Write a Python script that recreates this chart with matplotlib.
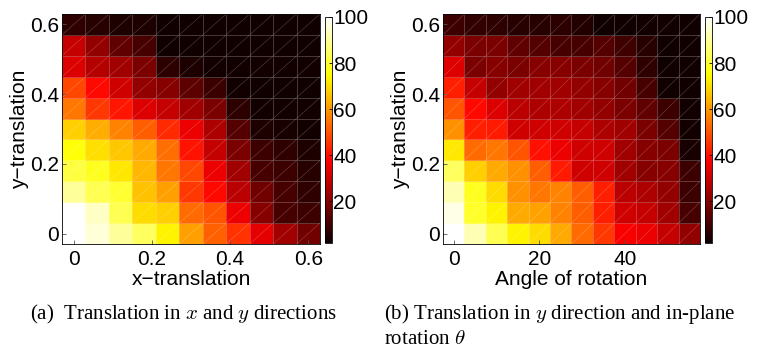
import numpy as np
import matplotlib
matplotlib.use('Agg')
from matplotlib import pyplot as plt
from matplotlib.collections import LineCollection

plt.rcParams['font.family'] = ['Liberation Sans', 'DejaVu Sans']
plt.rcParams['mathtext.fontset'] = 'cm'

# grid coordinates (cell centres)
x_trans = [0, 0.06, 0.12, 0.18, 0.24, 0.30, 0.36, 0.42, 0.48, 0.54, 0.60]
y_trans = [0, 0.06, 0.12, 0.18, 0.24, 0.30, 0.36, 0.42, 0.48, 0.54, 0.60]
angles = [0, 5, 10, 15, 20, 25, 30, 35, 40, 45, 50, 55]

# accuracy (%) rows listed from top (y=0.6) down to bottom (y=0)
acc_xy = [
    [7.5, 6.5, 5, 5, 3, 3, 3, 3, 3, 3, 3],
    [29.5, 22, 15, 11, 3, 3, 3, 3, 3, 3, 3],
    [33, 27, 24, 18.5, 7, 5, 3.5, 3.5, 3.5, 3.5, 3.5],
    [48, 39, 31, 22, 20, 14, 9, 3.5, 3, 3, 3],
    [55, 46, 41, 33, 29.5, 24, 18.5, 7, 3.5, 3.5, 3.5],
    [68, 63, 57, 51.5, 44, 35, 26, 13, 5, 4, 3.5],
    [75.5, 70.5, 67, 62.5, 54, 40.5, 29.5, 18.5, 9.5, 7.5, 5],
    [81.5, 78, 71.5, 64.5, 55, 48, 35, 24, 11, 9.5, 6.5],
    [90, 83, 80, 66, 61, 46, 39, 28, 17, 11, 7.5],
    [100, 94, 83, 70, 68, 53.5, 50, 35, 20, 11, 9.5],
    [100, 96, 90, 84, 73.5, 61, 52, 45, 34, 24, 17],
]
acc_ytheta = [
    [9.5, 8, 7.5, 6.5, 6.5, 7, 5.5, 3, 3, 3.5, 3.5, 3],
    [22, 18.5, 18.5, 15, 13, 11, 11, 13, 10, 6.5, 3, 3],
    [33, 18.5, 20, 18.5, 20, 20, 18.5, 17, 13, 7.5, 3, 3],
    [42.5, 29.5, 22, 24, 24, 24, 22, 20, 17, 11, 3.5, 3],
    [50, 39, 33, 28, 26, 26, 24, 22, 18.5, 15, 9.5, 3.5],
    [59, 42.5, 41.5, 31, 31, 31, 29.5, 26, 24, 18.5, 13, 3.5],
    [72, 53.5, 55, 50, 40, 35, 31, 31, 24, 20, 18.5, 4],
    [84, 68, 62.5, 59, 51.5, 41.5, 31, 31, 24, 20, 20, 9.5],
    [92.5, 78, 70, 59, 55, 57, 51.5, 42.5, 28, 26, 22, 9.5],
    [97.5, 79, 73.5, 62.5, 61.5, 57, 51.5, 42.5, 31, 29.5, 24, 11],
    [100, 92.5, 83, 73.5, 70, 62.5, 53.5, 46, 37, 35, 29.5, 22],
]

W, H = 758, 349
FS = 15
fig = plt.figure(figsize=(W / 100, H / 100), dpi=100)


def px(x0, y0, w, h):
    # pixel box (top-left origin) -> figure fraction
    return [x0 / W, (H - y0 - h) / H, w / W, h / H]


def edges(c):
    c = np.asarray(c, float)
    d = c[1] - c[0]
    return np.concatenate([c - d / 2, [c[-1] + d / 2]])


def heat(ax, cax, xs, ys, vals, xticks, xlabel):
    Z = np.array(vals)[::-1]
    xe, ye = edges(xs), edges(ys)
    m = ax.pcolormesh(xe, ye, Z, cmap='hot', vmin=2, vmax=100,
                      edgecolors=(1, 1, 1, 0.22), linewidth=0.7)
    # diagonal facet lines
    segs = []
    for i in range(len(xs)):
        for j in range(len(ys)):
            segs.append([(xe[i], ye[j]), (xe[i + 1], ye[j + 1])])
    ax.add_collection(LineCollection(segs, colors=[(1, 1, 1, 0.22)], linewidths=0.5))
    ax.set_xlim(xe[0], xe[-1])
    ax.set_ylim(ye[0], ye[-1])
    ax.set_xticks(xticks)
    ax.set_xticklabels(['%g' % t for t in xticks])
    ax.set_yticks([0, 0.2, 0.4, 0.6])
    ax.set_yticklabels(['0', '0.2', '0.4', '0.6'])
    ax.tick_params(labelsize=FS, direction='in', length=3, width=0.6,
                   color='#555555', pad=2)
    ax.tick_params(axis='x', pad=4)
    ax.set_xlabel(xlabel, fontsize=FS, labelpad=1)
    ax.set_ylabel('y\u2212translation', fontsize=FS, labelpad=1)
    for s in ax.spines.values():
        s.set_linewidth(0.6)
    cb = fig.colorbar(m, cax=cax)
    cb.set_ticks([20, 40, 60, 80, 100])
    cb.ax.tick_params(labelsize=FS, direction='in', length=2, width=0.6, pad=1)
    cb.outline.set_linewidth(0.6)


ax1 = fig.add_axes(px(62, 14, 258, 230))
cax1 = fig.add_axes(px(325, 17, 7, 226))
heat(ax1, cax1, x_trans, y_trans, acc_xy, [0, 0.2, 0.4, 0.6], 'x\u2212translation')

ax2 = fig.add_axes(px(443, 14, 257, 230))
cax2 = fig.add_axes(px(705, 17, 7, 226))
heat(ax2, cax2, angles, y_trans, acc_ytheta, [0, 20, 40], 'Angle of rotation')

cap = dict(fontsize=15, family=['Liberation Serif', 'DejaVu Serif'], va='center')
fig.text(30 / W, 1 - 314 / H, '(a)  Translation in $x$ and $y$ directions', **cap)
fig.text(384 / W, 1 - 314 / H, '(b) Translation in $y$ direction and in-plane', **cap)
fig.text(384 / W, 1 - 339 / H, r'rotation $\theta$', **cap)

fig.savefig('out.png', dpi=100)
